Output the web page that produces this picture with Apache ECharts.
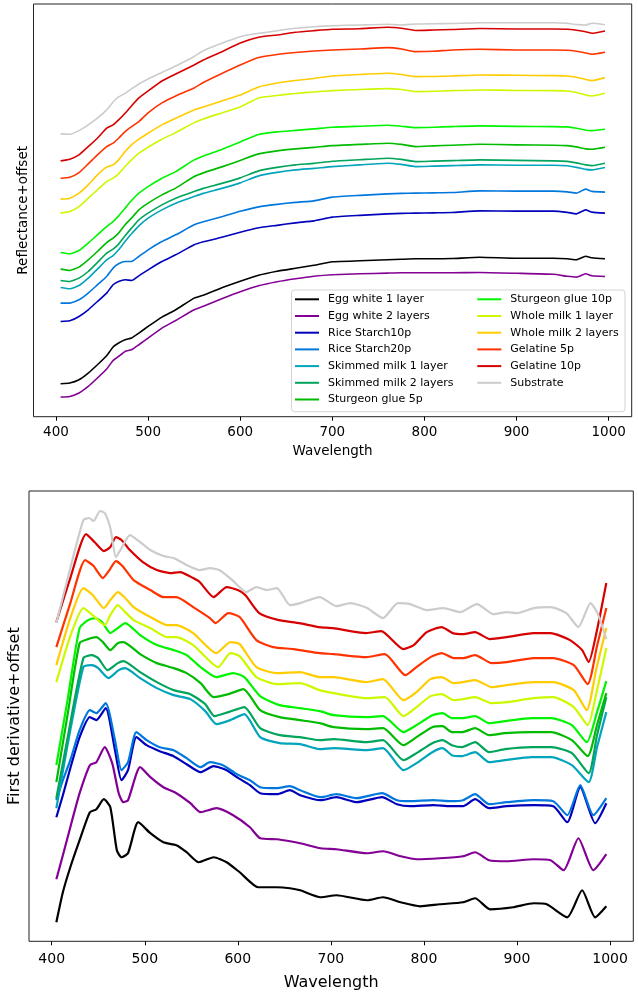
<!DOCTYPE html>
<html><head><meta charset="utf-8">
<script src="https://cdn.jsdelivr.net/npm/echarts@6/dist/echarts.min.js"></script>
<style>html,body{margin:0;padding:0;background:#fff}#c{width:638px;height:994px}</style>
</head><body><div id="c"></div>
<script>
const seriesNames = ['Egg white 1 layer','Egg white 2 layers','Rice Starch10p','Rice Starch20p','Skimmed milk 1 layer','Skimmed milk 2 layers','Sturgeon glue 5p','Sturgeon glue 10p','Whole milk 1 layer','Whole milk 2 layers','Gelatine 5p','Gelatine 10p','Substrate'];
const seriesColors = ['#000000','#820093','#0000bb','#0077dd','#00a4bb','#00a45b','#00bb00','#00f400','#ccf900','#ffcc00','#ff3300','#d70000','#cccccc'];
const tickValues = [400,500,600,700,800,900,1000];

// Top panel: reflectance + offset, sampled at these wavelengths
const topWavelengths = [405,415,425,435,445,455,462,468,475,482,490,500,515,530,550,560,580,600,620,640,660,680,700,730,760,775,790,810,830,860,900,940,955,965,975,982,996];
const reflEggWhite1 = [0.33,0.337,0.37,0.437,0.52,0.61,0.697,0.737,0.77,0.787,0.837,0.903,0.997,1.07,1.187,1.215,1.29,1.355,1.415,1.455,1.485,1.515,1.55,1.56,1.57,1.575,1.58,1.58,1.583,1.595,1.585,1.585,1.58,1.57,1.605,1.59,1.58];
const reflEggWhite2 = [0.197,0.203,0.237,0.303,0.387,0.477,0.563,0.603,0.653,0.67,0.72,0.787,0.887,0.963,1.07,1.105,1.18,1.25,1.31,1.35,1.38,1.405,1.42,1.43,1.437,1.44,1.44,1.44,1.44,1.443,1.435,1.425,1.405,1.397,1.43,1.41,1.403];
const reflRice10 = [0.953,0.96,1.003,1.07,1.153,1.237,1.32,1.353,1.37,1.363,1.41,1.47,1.553,1.62,1.72,1.75,1.795,1.845,1.89,1.915,1.94,1.96,1.997,2.015,2.03,2.035,2.037,2.04,2.043,2.06,2.057,2.057,2.045,2.03,2.07,2.047,2.037];
const reflRice20 = [1.137,1.137,1.17,1.237,1.32,1.403,1.487,1.53,1.553,1.553,1.603,1.67,1.753,1.82,1.92,1.95,2.0,2.055,2.1,2.125,2.145,2.16,2.197,2.215,2.23,2.235,2.237,2.24,2.243,2.26,2.257,2.257,2.25,2.237,2.277,2.255,2.247];
const reflSkim1 = [1.293,1.28,1.313,1.387,1.477,1.57,1.613,1.67,1.753,1.83,1.91,1.987,2.07,2.137,2.203,2.235,2.285,2.34,2.41,2.445,2.47,2.485,2.503,2.52,2.537,2.525,2.503,2.508,2.513,2.52,2.517,2.517,2.512,2.495,2.475,2.47,2.493];
const reflSkim2 = [1.363,1.353,1.387,1.453,1.543,1.637,1.677,1.727,1.81,1.887,1.97,2.037,2.12,2.187,2.253,2.285,2.335,2.39,2.46,2.495,2.52,2.535,2.557,2.572,2.587,2.575,2.553,2.558,2.563,2.57,2.565,2.56,2.555,2.54,2.52,2.513,2.537];
const reflSturgeon5 = [1.477,1.463,1.497,1.57,1.653,1.743,1.787,1.837,1.92,1.987,2.07,2.137,2.22,2.287,2.403,2.44,2.5,2.565,2.63,2.66,2.68,2.695,2.713,2.725,2.737,2.725,2.703,2.71,2.717,2.727,2.72,2.717,2.713,2.7,2.68,2.677,2.697];
const reflSturgeon10 = [1.643,1.63,1.663,1.737,1.82,1.903,1.953,2.01,2.087,2.163,2.237,2.303,2.387,2.453,2.57,2.61,2.675,2.75,2.825,2.85,2.865,2.88,2.897,2.907,2.917,2.907,2.893,2.897,2.903,2.91,2.905,2.903,2.9,2.887,2.867,2.863,2.877];
const reflWhole1 = [2.037,2.053,2.103,2.187,2.27,2.353,2.387,2.43,2.503,2.57,2.637,2.697,2.777,2.843,2.943,2.98,3.04,3.1,3.19,3.215,3.235,3.25,3.263,3.275,3.283,3.275,3.253,3.257,3.263,3.27,3.265,3.263,3.26,3.245,3.22,3.21,3.237];
const reflWhole2 = [2.177,2.187,2.237,2.32,2.42,2.497,2.52,2.57,2.653,2.72,2.777,2.837,2.92,2.987,3.07,3.1,3.16,3.22,3.3,3.34,3.365,3.385,3.41,3.425,3.437,3.425,3.403,3.405,3.41,3.42,3.417,3.413,3.41,3.397,3.375,3.363,3.393];
const reflGelatine5 = [2.387,2.397,2.443,2.53,2.62,2.703,2.737,2.787,2.853,2.903,2.953,3.04,3.14,3.21,3.29,3.345,3.435,3.52,3.595,3.625,3.645,3.66,3.67,3.68,3.693,3.68,3.653,3.657,3.67,3.677,3.67,3.67,3.667,3.657,3.64,3.627,3.647];
const reflGelatine10 = [2.56,2.577,2.62,2.703,2.787,2.887,2.92,2.97,3.037,3.11,3.19,3.26,3.36,3.43,3.52,3.57,3.653,3.74,3.797,3.82,3.847,3.863,3.877,3.883,3.897,3.887,3.865,3.87,3.875,3.885,3.88,3.88,3.877,3.867,3.853,3.837,3.86];
const reflSubstrate = [2.83,2.827,2.863,2.92,2.987,3.07,3.15,3.2,3.235,3.28,3.33,3.38,3.445,3.51,3.605,3.663,3.737,3.803,3.837,3.863,3.887,3.903,3.913,3.92,3.927,3.92,3.93,3.933,3.935,3.943,3.943,3.943,3.937,3.925,3.92,3.937,3.923];

// Bottom panel: first derivative + offset, [wavelength, value]
const derivEggWhite1 = [[405,0.019],[412,0.049],[420,0.074],[430,0.101],[441,0.129],[448,0.132],[456,0.142],[463,0.134],[470,0.091],[475,0.084],[482,0.088],[493,0.119],[506,0.108],[520,0.099],[534,0.096],[545,0.089],[558,0.079],[574,0.084],[588,0.079],[602,0.069],[622,0.054],[642,0.054],[656,0.053],[667,0.051],[689,0.044],[706,0.046],[739,0.041],[756,0.044],[775,0.039],[796,0.035],[817,0.037],[842,0.039],[855,0.043],[871,0.032],[896,0.034],[918,0.038],[932,0.037],[954,0.024],[970,0.051],[984,0.024],[996,0.035]];
const derivEggWhite2 = [[405,0.062],[412,0.086],[420,0.114],[430,0.148],[441,0.176],[448,0.179],[457,0.194],[465,0.178],[472,0.148],[477,0.139],[482,0.141],[495,0.174],[506,0.164],[520,0.154],[534,0.148],[549,0.138],[560,0.129],[577,0.133],[595,0.126],[613,0.114],[624,0.103],[642,0.102],[656,0.1],[667,0.098],[689,0.093],[706,0.092],[739,0.088],[756,0.09],[775,0.085],[792,0.082],[817,0.083],[842,0.085],[855,0.089],[870,0.081],[889,0.08],[918,0.082],[936,0.081],[950,0.071],[966,0.103],[982,0.071],[996,0.087]];
const derivRice10 = [[405,0.124],[412,0.146],[420,0.173],[430,0.204],[441,0.224],[448,0.221],[458,0.233],[468,0.191],[475,0.161],[482,0.171],[491,0.204],[502,0.196],[516,0.19],[531,0.185],[545,0.177],[560,0.169],[574,0.175],[588,0.171],[599,0.164],[613,0.156],[624,0.148],[642,0.147],[656,0.151],[667,0.146],[689,0.141],[706,0.144],[728,0.139],[755,0.144],[771,0.137],[785,0.135],[810,0.136],[828,0.135],[842,0.135],[855,0.142],[870,0.133],[889,0.135],[918,0.136],[939,0.135],[954,0.119],[968,0.154],[984,0.118],[996,0.138]];
const derivRice20 = [[405,0.141],[412,0.161],[420,0.181],[430,0.211],[441,0.231],[448,0.228],[458,0.238],[468,0.201],[475,0.171],[482,0.179],[491,0.209],[502,0.201],[516,0.194],[531,0.191],[545,0.183],[560,0.174],[570,0.179],[584,0.176],[599,0.167],[613,0.161],[624,0.154],[642,0.153],[656,0.155],[667,0.151],[689,0.144],[706,0.147],[728,0.143],[755,0.148],[771,0.141],[785,0.14],[810,0.141],[828,0.14],[842,0.141],[855,0.147],[870,0.137],[889,0.139],[918,0.141],[939,0.14],[954,0.126],[968,0.156],[982,0.126],[996,0.143]];
const derivSkim1 = [[405,0.133],[417,0.196],[434,0.274],[443,0.276],[450,0.273],[461,0.263],[472,0.271],[479,0.273],[495,0.263],[513,0.253],[531,0.246],[549,0.242],[565,0.23],[577,0.217],[592,0.221],[607,0.227],[624,0.204],[645,0.198],[667,0.197],[688,0.192],[703,0.193],[738,0.191],[756,0.193],[778,0.171],[792,0.178],[809,0.189],[820,0.193],[830,0.186],[841,0.185],[855,0.189],[870,0.179],[887,0.181],[916,0.184],[937,0.184],[959,0.176],[977,0.159],[986,0.194],[996,0.229]];
const derivSkim2 = [[405,0.143],[417,0.203],[434,0.283],[443,0.286],[450,0.283],[460,0.271],[471,0.278],[477,0.28],[495,0.269],[513,0.259],[531,0.251],[549,0.247],[565,0.237],[575,0.225],[590,0.229],[607,0.234],[624,0.213],[645,0.206],[667,0.204],[688,0.201],[703,0.202],[738,0.199],[756,0.201],[778,0.181],[792,0.188],[809,0.198],[820,0.201],[830,0.196],[841,0.194],[855,0.199],[870,0.189],[887,0.192],[916,0.194],[937,0.194],[959,0.188],[977,0.168],[986,0.206],[996,0.244]];
const derivSturgeon5 = [[405,0.159],[417,0.226],[430,0.298],[439,0.302],[448,0.304],[455,0.299],[463,0.291],[471,0.298],[477,0.299],[495,0.287],[513,0.278],[531,0.273],[545,0.268],[560,0.258],[574,0.244],[590,0.247],[606,0.252],[624,0.231],[645,0.224],[667,0.221],[688,0.218],[703,0.214],[738,0.212],[756,0.213],[778,0.196],[792,0.204],[809,0.214],[820,0.215],[830,0.209],[841,0.209],[855,0.213],[870,0.206],[887,0.208],[916,0.209],[937,0.209],[959,0.201],[976,0.185],[986,0.216],[996,0.248]];
const derivSturgeon10 = [[405,0.176],[417,0.241],[430,0.313],[439,0.321],[447,0.323],[454,0.319],[463,0.308],[471,0.313],[479,0.318],[495,0.306],[513,0.296],[531,0.291],[545,0.286],[560,0.274],[577,0.264],[595,0.268],[607,0.264],[624,0.245],[645,0.236],[667,0.233],[688,0.23],[703,0.226],[738,0.224],[756,0.225],[778,0.209],[792,0.216],[809,0.226],[820,0.228],[830,0.223],[841,0.223],[855,0.225],[870,0.218],[887,0.22],[916,0.223],[937,0.223],[959,0.216],[975,0.199],[986,0.229],[996,0.26]];
const derivWhole1 = [[405,0.259],[420,0.305],[434,0.333],[444,0.326],[457,0.316],[463,0.326],[471,0.336],[478,0.33],[488,0.321],[506,0.313],[524,0.304],[534,0.304],[552,0.296],[579,0.274],[592,0.288],[602,0.285],[620,0.264],[642,0.257],[667,0.258],[688,0.251],[703,0.248],[738,0.243],[758,0.244],[778,0.225],[792,0.234],[807,0.245],[819,0.247],[832,0.241],[842,0.242],[855,0.244],[873,0.238],[889,0.239],[918,0.243],[939,0.244],[961,0.234],[976,0.216],[986,0.251],[996,0.293]];
const derivWhole2 = [[405,0.276],[420,0.323],[434,0.353],[444,0.346],[456,0.333],[463,0.341],[471,0.349],[478,0.344],[488,0.334],[506,0.324],[524,0.316],[534,0.316],[552,0.308],[577,0.288],[592,0.299],[602,0.297],[620,0.274],[642,0.268],[667,0.269],[688,0.264],[703,0.264],[738,0.259],[756,0.262],[778,0.241],[792,0.249],[807,0.262],[819,0.264],[832,0.258],[842,0.259],[855,0.261],[873,0.254],[889,0.256],[918,0.259],[939,0.259],[961,0.251],[975,0.231],[985,0.271],[996,0.313]];
const derivGelatine5 = [[405,0.294],[420,0.338],[436,0.381],[445,0.375],[455,0.363],[462,0.371],[469,0.38],[476,0.375],[488,0.361],[506,0.351],[520,0.344],[534,0.344],[552,0.334],[570,0.323],[576,0.318],[590,0.328],[602,0.324],[620,0.301],[638,0.294],[660,0.292],[688,0.288],[703,0.287],[738,0.284],[758,0.287],[780,0.266],[792,0.274],[807,0.284],[819,0.288],[832,0.283],[842,0.283],[855,0.286],[873,0.278],[889,0.279],[918,0.283],[939,0.283],[961,0.276],[976,0.257],[986,0.295],[996,0.333]];
const derivGelatine10 = [[405,0.319],[420,0.363],[437,0.407],[446,0.399],[456,0.39],[463,0.394],[469,0.404],[475,0.401],[484,0.391],[498,0.379],[513,0.371],[527,0.368],[538,0.369],[552,0.363],[559,0.359],[574,0.344],[588,0.354],[600,0.351],[608,0.346],[623,0.328],[644,0.321],[666,0.318],[687,0.314],[702,0.313],[738,0.308],[754,0.31],[778,0.292],[789,0.296],[803,0.309],[819,0.314],[831,0.308],[842,0.307],[855,0.309],[871,0.302],[889,0.304],[918,0.308],[936,0.308],[957,0.301],[970,0.291],[977,0.279],[986,0.311],[996,0.358]];
const derivSubstrate = [[405,0.318],[420,0.373],[434,0.421],[440,0.423],[445,0.42],[452,0.43],[457,0.428],[463,0.413],[469,0.384],[475,0.393],[484,0.406],[495,0.399],[506,0.391],[520,0.385],[531,0.383],[545,0.376],[559,0.371],[570,0.373],[580,0.371],[594,0.361],[609,0.349],[620,0.354],[631,0.351],[642,0.353],[656,0.336],[667,0.338],[688,0.344],[706,0.335],[721,0.338],[739,0.333],[756,0.323],[772,0.338],[785,0.337],[803,0.331],[821,0.333],[839,0.329],[857,0.337],[875,0.327],[889,0.329],[900,0.328],[918,0.333],[936,0.334],[953,0.328],[966,0.314],[979,0.338],[987,0.327],[996,0.302]];

const reflectance = [reflEggWhite1,reflEggWhite2,reflRice10,reflRice20,reflSkim1,reflSkim2,reflSturgeon5,reflSturgeon10,reflWhole1,reflWhole2,reflGelatine5,reflGelatine10,reflSubstrate];
const derivative = [derivEggWhite1,derivEggWhite2,derivRice10,derivRice20,derivSkim1,derivSkim2,derivSturgeon5,derivSturgeon10,derivWhole1,derivWhole2,derivGelatine5,derivGelatine10,derivSubstrate];

const FONT = 'DejaVu Sans';
const chart = echarts.init(document.getElementById('c'), null, {renderer: 'canvas'});

function xAxisFor(gridIndex, fontSize, margin, nameSize, nameGap) {
  return {
    type: 'value', gridIndex: gridIndex, min: 375.6, max: 1025,
    axisLine: {show: false},
    axisTick: {show: true, inside: false, length: 4, lineStyle: {color: '#000', width: 1}, customValues: tickValues},
    axisLabel: {show: true, customValues: tickValues, fontFamily: FONT, fontSize: fontSize, color: '#000', margin: margin,
      formatter: function (v) { return String(v); }},
    splitLine: {show: false},
    name: 'Wavelength', nameLocation: 'middle', nameGap: nameGap,
    nameTextStyle: {fontFamily: FONT, fontSize: nameSize, color: '#000'}
  };
}
function yAxisFor(gridIndex, max, name, nameSize, nameGap) {
  return {
    type: 'value', gridIndex: gridIndex, min: 0, max: max,
    axisLine: {show: false}, axisTick: {show: false}, axisLabel: {show: false}, splitLine: {show: false},
    name: name, nameLocation: 'middle', nameGap: nameGap,
    nameTextStyle: {fontFamily: FONT, fontSize: nameSize, color: '#000'}
  };
}

const series = [];
seriesNames.forEach(function (name, i) {
  series.push({
    name: name, type: 'line', xAxisIndex: 0, yAxisIndex: 0,
    data: topWavelengths.map(function (w, k) { return [w, reflectance[i][k]]; }),
    symbol: 'none', smooth: 0.15, silent: true,
    lineStyle: {width: 1.6, color: seriesColors[i], join: 'round'}, itemStyle: {color: seriesColors[i]}
  });
});
seriesNames.forEach(function (name, i) {
  series.push({
    name: name, type: 'line', xAxisIndex: 1, yAxisIndex: 1,
    data: derivative[i],
    symbol: 'none', smooth: 0.2, silent: true,
    lineStyle: {width: 2.2, color: seriesColors[i], join: 'round'}, itemStyle: {color: seriesColors[i]}
  });
});

function legendFor(names, left) {
  return {
    data: names.map(function (n) { return {name: n, icon: 'rect'}; }),
    orient: 'vertical', left: left, top: 292.3,
    itemWidth: 24, itemHeight: 2, itemGap: 2.7, padding: 0,
    selectedMode: false,
    textStyle: {fontFamily: FONT, fontSize: 11, lineHeight: 14, color: '#000', padding: [0, 0, 0, 4]}
  };
}

chart.setOption({
  animation: false,
  backgroundColor: '#fff',
  grid: [
    {left: 33.5, top: 4, width: 598.2, height: 412.7, show: true, borderColor: '#222', borderWidth: 1, containLabel: false, outerBoundsMode: 'none'},
    {left: 29, top: 491, width: 604.3, height: 450.3, show: true, borderColor: '#222', borderWidth: 1, containLabel: false, outerBoundsMode: 'none'}
  ],
  xAxis: [xAxisFor(0, 13.5, 9, 13.5, 28), xAxisFor(1, 14, 11, 16, 34)],
  yAxis: [yAxisFor(0, 4.13, 'Reflectance+offset', 13.5, 3), yAxisFor(1, 0.45, 'First derivative+offset', 16, 6)],
  legend: [legendFor(seriesNames.slice(0, 7), 295), legendFor(seriesNames.slice(7), 477.3)],
  graphic: [{
    type: 'rect', z: 3,
    shape: {x: 291.5, y: 290, width: 333.5, height: 121.7, r: 3},
    style: {fill: 'rgba(255,255,255,0.8)', stroke: '#d4d4d4', lineWidth: 1}
  }],
  series: series
});
</script>
</body></html>
